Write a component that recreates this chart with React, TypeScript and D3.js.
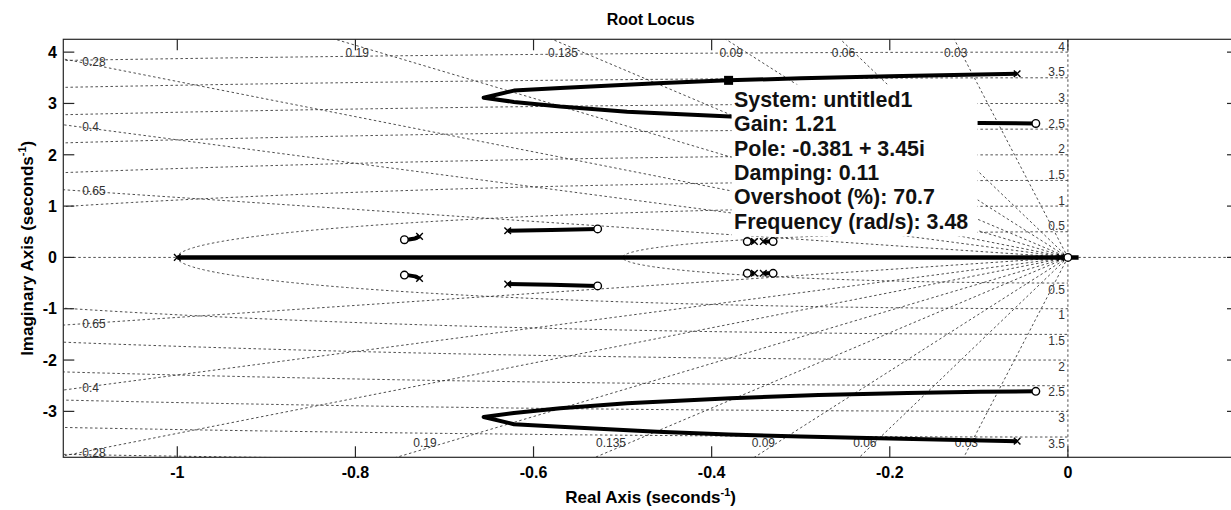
import React from 'react';
import * as d3 from 'd3';

// ---------- data ----------
const xTicks = [-1, -0.8, -0.6, -0.4, -0.2, 0];
const yTicks = [-3, -2, -1, 0, 1, 2, 3, 4];
const xTickLabels = ['-1', '-0.8', '-0.6', '-0.4', '-0.2', '0'];
const yTickLabels = ['-3', '-2', '-1', '0', '1', '2', '3', '4'];
const xLimits = [-1.128, 0.191];
const yLimits = [-3.895, 4.25];

const dampingValues = [0.03, 0.06, 0.09, 0.135, 0.19, 0.28, 0.4, 0.65];
const topDampingLabels = [0.19, 0.135, 0.09, 0.06, 0.03];
const leftDampingLabels = [0.28, 0.4, 0.65];
const naturalFreqs = [0.5, 1, 1.5, 2, 2.5, 3, 3.5, 4];
const naturalFreqLabels = ['0.5', '1', '1.5', '2', '2.5', '3', '3.5', '4'];

// main complex branch (upper half, mirrored for lower half)
const branchReal = [-0.057, -0.2, -0.3, -0.381, -0.461, -0.57, -0.622, -0.656, -0.622, -0.57, -0.495, -0.379, -0.28, -0.18, -0.098, -0.036];
const branchImag = [3.58, 3.53, 3.49, 3.45, 3.395, 3.3, 3.25, 3.11, 3.03, 2.94, 2.84, 2.745, 2.68, 2.64, 2.62, 2.61];

// short branches (upper half, mirrored)
const shortBranchA_Real = [-0.629, -0.58, -0.528];
const shortBranchA_Imag = [0.52, 0.535, 0.555];
const shortBranchB_Real = [-0.728, -0.733, -0.74, -0.745];
const shortBranchB_Imag = [0.41, 0.37, 0.35, 0.345];
const shortBranchC_Real = [-0.352, -0.36];
const shortBranchC_Imag = [0.31, 0.31];
const shortBranchD_Real = [-0.342, -0.331];
const shortBranchD_Imag = [0.31, 0.31];

// real-axis branch
const realAxisBranch = [-1, 0.012];

// poles and zeros (upper half + real axis; complex ones mirrored)
const poleReal = [-0.057, -0.629, -0.728, -0.352, -0.342];
const poleImag = [3.58, 0.52, 0.41, 0.31, 0.31];
const realPoles = [-1, -0.008];
const zeroReal = [-0.036, -0.528, -0.745, -0.36, -0.331];
const zeroImag = [2.61, 0.555, 0.345, 0.31, 0.31];
const realZeros = [0];

// data tip
const tipPole = { re: -0.381, im: 3.45 };
const tipLines = [
  'System: untitled1',
  'Gain: 1.21',
  'Pole: -0.381 + 3.45i',
  'Damping: 0.11',
  'Overshoot (%): 70.7',
  'Frequency (rad/s): 3.48',
];

// ---------- layout ----------
const W = 1231;
const H = 510;
const left = 63.3;
const right = 1238;
const top = 39.3;
const bottom = 457.3;
const FONT = "Arial, 'Liberation Sans', Helvetica, sans-serif";

export default function App() {
  const x = d3.scaleLinear().domain(xLimits).range([left, right]);
  const y = d3.scaleLinear().domain(yLimits).range([bottom, top]);
  const line = d3
    .line<[number, number]>()
    .x((d) => x(d[0]))
    .y((d) => y(d[1]));

  const zip = (re: number[], im: number[], sign = 1): [number, number][] =>
    re.map((r, i) => [r, sign * im[i]]);

  const gridColor = '#3a3a3a';
  const dash = '2.5 2.5';

  // damping rays
  const rays: string[] = [];
  dampingValues.forEach((z) => {
    const s = Math.sqrt(1 - z * z);
    [1, -1].forEach((sg) => {
      rays.push(line([[0, 0], [-z * 12, sg * s * 12]]) as string);
    });
  });
  // natural frequency semicircles
  const circles: string[] = naturalFreqs.map((wn) => {
    const pts: [number, number][] = d3.range(0, 361).map((i) => {
      const th = Math.PI / 2 + (Math.PI * i) / 360;
      return [wn * Math.cos(th), wn * Math.sin(th)];
    });
    return line(pts) as string;
  });

  const branches: [number, number][][] = [];
  [1, -1].forEach((sg) => {
    branches.push(zip(branchReal, branchImag, sg));
    branches.push(zip(shortBranchA_Real, shortBranchA_Imag, sg));
    branches.push(zip(shortBranchB_Real, shortBranchB_Imag, sg));
    branches.push(zip(shortBranchC_Real, shortBranchC_Imag, sg));
    branches.push(zip(shortBranchD_Real, shortBranchD_Imag, sg));
  });

  const poles: [number, number][] = [
    ...zip(poleReal, poleImag, 1),
    ...zip(poleReal, poleImag, -1),
    ...realPoles.map((r) => [r, 0] as [number, number]),
  ];
  const zeros: [number, number][] = [
    ...zip(zeroReal, zeroImag, 1),
    ...zip(zeroReal, zeroImag, -1),
    ...realZeros.map((r) => [r, 0] as [number, number]),
  ];

  const tipX = x(tipPole.re);
  const tipY = y(tipPole.im);
  const boxX = tipX + 3;
  const boxY = tipY + 4;
  const lineH = 24.3;

  const tickLen = 11;

  return (
    <svg
      width={W}
      height={H}
      style={{ position: 'absolute', left: 0, top: 0, background: '#fff' }}
      fontFamily={FONT}
    >
      <defs>
        <clipPath id="plot">
          <rect x={left} y={top} width={right - left} height={bottom - top} />
        </clipPath>
      </defs>
      <rect x={0} y={0} width={W} height={H} fill="#fff" />

      {/* grid */}
      <g clipPath="url(#plot)" fill="none" stroke={gridColor} strokeWidth={0.9} strokeDasharray={dash}>
        {rays.map((d, i) => (
          <path key={'r' + i} d={d} />
        ))}
        {circles.map((d, i) => (
          <path key={'c' + i} d={d} />
        ))}
        <line x1={left} x2={right} y1={y(0)} y2={y(0)} />
        <line x1={x(0)} x2={x(0)} y1={top} y2={bottom} />
      </g>

      {/* grid labels */}
      <g fontSize={12} fill="#333" clipPath="url(#plot)">
        {topDampingLabels.map((z) => (
          <text key={'t' + z} x={x(-4.2 * z)} y={y(3.99)} dy="0.35em" textAnchor="middle">
            {String(z)}
          </text>
        ))}
        {topDampingLabels.map((z) => (
          <text key={'b' + z} x={x(-3.8 * z)} y={y(-3.62)} dy="0.35em" textAnchor="middle">
            {String(z)}
          </text>
        ))}
        {leftDampingLabels.map((z) => {
          const k = Math.sqrt(1 - z * z) / z;
          const re = -1.11;
          return (
            <g key={'l' + z}>
              <text x={x(re) + 3} y={y(-re * k)} dy="0.35em" textAnchor="start">
                {String(z)}
              </text>
              <text x={x(re) + 3} y={y(re * k)} dy="0.35em" textAnchor="start">
                {String(z)}
              </text>
            </g>
          );
        })}
        {naturalFreqs.map((wn, i) => (
          <g key={'w' + wn}>
            <text x={x(0) - 3} y={y(wn) - 1.5} textAnchor="end">
              {naturalFreqLabels[i]}
            </text>
            <text x={x(0) - 3} y={y(-wn) + 10.5} textAnchor="end">
              {naturalFreqLabels[i]}
            </text>
          </g>
        ))}
      </g>

      {/* locus */}
      <g clipPath="url(#plot)" fill="none" stroke="#000" strokeWidth={4} strokeLinejoin="round">
        <line x1={x(realAxisBranch[0])} x2={x(realAxisBranch[1])} y1={y(0)} y2={y(0)} strokeWidth={4.5} />
        {branches.map((b, i) => (
          <path key={'br' + i} d={line(b) as string} />
        ))}
      </g>

      {/* markers */}
      <g stroke="#000" strokeWidth={1.4} fill="none">
        {poles.map((p, i) => {
          const cx = x(p[0]);
          const cy = y(p[1]);
          const s = 3.3;
          return (
            <path
              key={'p' + i}
              d={`M${cx - s},${cy - s}L${cx + s},${cy + s}M${cx - s},${cy + s}L${cx + s},${cy - s}`}
            />
          );
        })}
        {zeros.map((p, i) => (
          <circle key={'z' + i} cx={x(p[0])} cy={y(p[1])} r={3.8} fill="#fff" />
        ))}
      </g>

      {/* data tip */}
      <rect x={boxX} y={boxY} width={246} height={152} fill="#fff" />
      <g fontSize={21.4} fontWeight="bold" fill="#111">
        {tipLines.map((t, i) => (
          <text key={'tip' + i} x={boxX + 2.5} y={boxY + 22.7 + i * lineH}>
            {t}
          </text>
        ))}
      </g>
      <rect x={tipX - 4.5} y={tipY - 4.5} width={9} height={9} fill="#000" />

      {/* axes box and ticks */}
      <g stroke="#262626" strokeWidth={1.2} fill="none">
        <rect x={left} y={top} width={right - left} height={bottom - top} />
        {xTicks.map((t) => (
          <g key={'xt' + t}>
            <line x1={x(t)} x2={x(t)} y1={bottom} y2={bottom - tickLen} />
            <line x1={x(t)} x2={x(t)} y1={top} y2={top + tickLen} />
          </g>
        ))}
        {yTicks.map((t) => (
          <g key={'yt' + t}>
            <line x1={left} x2={left + tickLen} y1={y(t)} y2={y(t)} />
            <line x1={right} x2={right - tickLen} y1={y(t)} y2={y(t)} />
          </g>
        ))}
      </g>

      {/* tick labels */}
      <g fontSize={16} fontWeight="bold" fill="#000">
        {xTicks.map((t, i) => (
          <text key={'xl' + t} x={x(t)} y={478} textAnchor="middle">
            {xTickLabels[i]}
          </text>
        ))}
        {yTicks.map((t, i) => (
          <text key={'yl' + t} x={57} y={y(t)} dy="0.36em" textAnchor="end">
            {yTickLabels[i]}
          </text>
        ))}
      </g>

      {/* titles */}
      <text x={(left + right) / 2} y={25} textAnchor="middle" fontSize={16} fontWeight="bold">
        Root Locus
      </text>
      <text x={(left + right) / 2} y={503} textAnchor="middle" fontSize={17} fontWeight="bold">
        Real Axis (seconds
        <tspan fontSize={11} dy={-7}>-1</tspan>
        <tspan dy={7}>)</tspan>
      </text>
      <text
        transform={`translate(33,${(top + bottom) / 2}) rotate(-90)`}
        textAnchor="middle"
        fontSize={17}
        fontWeight="bold"
      >
        Imaginary Axis (seconds
        <tspan fontSize={11} dy={-7}>-1</tspan>
        <tspan dy={7}>)</tspan>
      </text>
    </svg>
  );
}
